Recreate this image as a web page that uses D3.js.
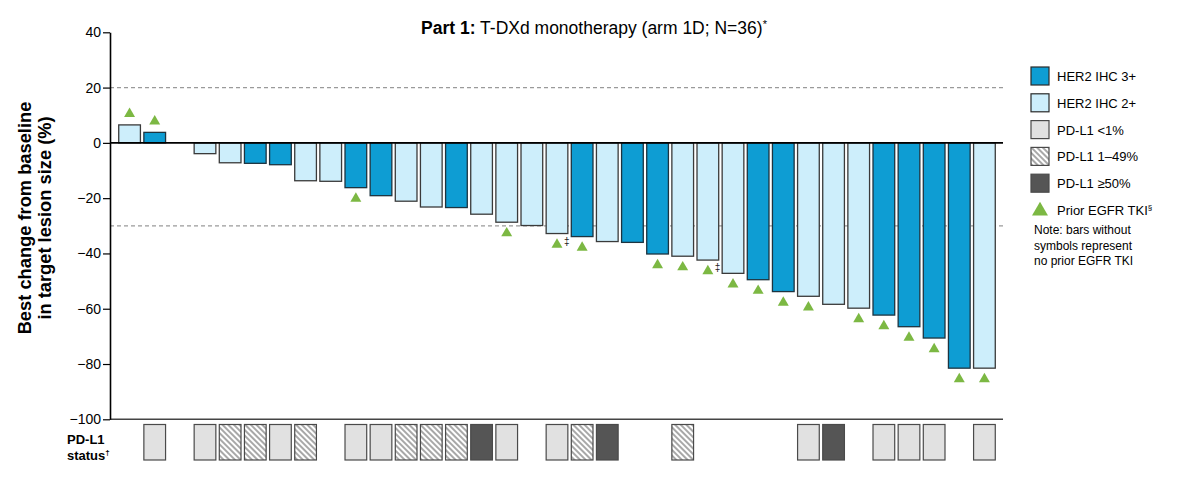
<!DOCTYPE html>
<html><head><meta charset="utf-8">
<script src="https://cdn.jsdelivr.net/npm/d3@7"></script>
<style>
html,body{margin:0;padding:0;background:#fff;}
svg{display:block;font-family:"Liberation Sans",Arial,Helvetica,sans-serif;}
</style></head>
<body><svg id="chart" width="1182" height="487"></svg>
<script>
// ---- data ----
const patients = d3.range(1, 36).map(i => "P" + i);
const bestChange = [6.5, 3.8, null, -3.9, -7.2, -7.4, -7.9, -13.7, -13.9, -16.2, -19.1, -21.1, -23.2, -23.4, -25.8, -28.7, -29.9, -32.8, -33.9, -35.7, -36.0, -40.2, -41.0, -42.4, -47.2, -49.5, -53.8, -55.5, -58.4, -59.8, -62.3, -66.5, -70.6, -81.5, -81.5];
const her2 = ["2+","3+",null,"2+","2+","3+","3+","2+","2+","3+","3+","2+","2+","3+","2+","2+","2+","2+","3+","2+","3+","3+","2+","2+","2+","3+","3+","2+","2+","2+","3+","3+","3+","3+","2+"];
const pdl1 = [null,"<1",null,"<1","1-49","1-49","<1","1-49",null,"<1","<1","1-49","1-49","1-49",">=50","<1",null,"<1","1-49",">=50",null,null,"1-49",null,null,null,null,"<1",">=50",null,"<1","<1","<1",null,"<1"];
const priorEGFR = [1,1,0,0,0,0,0,0,0,1,0,0,0,0,0,1,0,1,1,0,0,1,1,1,1,1,1,1,0,1,1,1,1,1,1];
const daggerMark = [0,0,0,0,0,0,0,0,0,0,0,0,0,0,0,0,0,1,0,0,0,0,0,1,0,0,0,0,0,0,0,0,0,0,0];
const yTicks = [40, 20, 0, -20, -40, -60, -80, -100];
const refLines = [20, -30];
const legendItems = [
  {key:"3+", label:"HER2 IHC 3+", type:"her2"},
  {key:"2+", label:"HER2 IHC 2+", type:"her2"},
  {key:"<1", label:"PD-L1 <1%", type:"pdl1"},
  {key:"1-49", label:"PD-L1 1–49%", type:"pdl1"},
  {key:">=50", label:"PD-L1 ≥50%", type:"pdl1"}
];
const noteLines = ["Note: bars without", "symbols represent", "no prior EGFR TKI"];

// ---- styles ----
const her2Fill = {"3+":"#0e9dd3", "2+":"#cdeefb"};
const pdFill = {"<1":"#e1e1e1", "1-49":"url(#hatch)", ">=50":"#555555"};
const green = "#7cb843";

const svg = d3.select("#chart");
const defs = svg.append("defs");
const pat = defs.append("pattern").attr("id","hatch").attr("patternUnits","userSpaceOnUse")
  .attr("width",4).attr("height",4).attr("patternTransform","rotate(-45)");
pat.append("rect").attr("width",4).attr("height",4).attr("fill","#ffffff");
pat.append("rect").attr("width",2).attr("height",4).attr("fill","#a8a8a8");

const x0 = 110, x1 = 1003;
const x = d3.scaleBand().domain(patients).range([117, 997]).paddingInner(0.137).paddingOuter(0.0685);
const y = d3.scaleLinear().domain([-100, 40]).range([419.3, 32.3]);

const data = patients.map((p, i) => ({p, v: bestChange[i], h: her2[i], pd: pdl1[i], egfr: priorEGFR[i], dag: daggerMark[i]}));

// reference lines
svg.append("g").selectAll("line").data(refLines).join("line")
  .attr("x1", x0).attr("x2", x1).attr("y1", d => y(d)).attr("y2", d => y(d))
  .attr("stroke", "#9a9a9a").attr("stroke-width", 1.2).attr("stroke-dasharray", "4,3");

// bars
svg.append("g").selectAll("rect").data(data.filter(d => d.v !== null)).join("rect")
  .attr("x", d => x(d.p)).attr("width", x.bandwidth())
  .attr("y", d => Math.min(y(d.v), y(0))).attr("height", d => Math.abs(y(d.v) - y(0)))
  .attr("fill", d => her2Fill[d.h]).attr("stroke", d => d.h === "3+" ? "#1d3440" : "#3a3a3a").attr("stroke-width", 1.3);

// triangles
const tri = d3.symbol().type(d3.symbolTriangle).size(52);
svg.append("g").selectAll("path").data(data.filter(d => d.egfr)).join("path")
  .attr("d", tri)
  .attr("transform", d => `translate(${x(d.p) + x.bandwidth()/2},${d.v >= 0 ? y(d.v) - 11 : y(d.v) + 11})`)
  .attr("fill", green);

// daggers
svg.append("g").selectAll("text").data(data.filter(d => d.dag)).join("text")
  .attr("x", d => x(d.p) + x.bandwidth()/2 + 7).attr("y", d => y(d.v) + 11)
  .attr("font-size", 10).attr("fill", "#222").text("‡");

// zero line & bottom line
svg.append("line").attr("x1", x0).attr("x2", x1).attr("y1", y(0)).attr("y2", y(0))
  .attr("stroke", "#000").attr("stroke-width", 1.6);
svg.append("line").attr("x1", x0).attr("x2", x1).attr("y1", y(-100)).attr("y2", y(-100))
  .attr("stroke", "#444").attr("stroke-width", 1.6);

// y axis
const yAxis = svg.append("g").attr("transform", `translate(${x0},0)`)
  .call(d3.axisLeft(y).tickValues(yTicks).tickSize(7).tickSizeOuter(0).tickPadding(2));
yAxis.select(".domain").attr("stroke", "#000").attr("stroke-width", 1.6);
yAxis.selectAll(".tick line").attr("stroke", "#000").attr("stroke-width", 1.2);
yAxis.selectAll(".tick text").attr("font-size", 14).attr("fill", "#000")
  .attr("font-family", "'Liberation Sans',Arial,sans-serif");

// y title
const yt = svg.append("text").attr("transform", "translate(31,218) rotate(-90)")
  .attr("text-anchor", "middle").attr("font-size", 18.3).attr("font-weight", "bold").attr("fill", "#000");
yt.append("tspan").attr("x", 0).attr("y", 0).text("Best change from baseline");
yt.append("tspan").attr("x", 0).attr("y", 20).text("in target lesion size (%)");

// title
const tt = svg.append("text").attr("x", 594).attr("y", 34).attr("text-anchor", "middle").attr("font-size", 17.5).attr("fill", "#000");
tt.append("tspan").attr("font-weight", "bold").text("Part 1:");
tt.append("tspan").text(" T-DXd monotherapy (arm 1D; N=36)");
tt.append("tspan").attr("font-size", 11).attr("dy", -6).text("*");

// PD-L1 status row
svg.append("g").selectAll("rect").data(data.filter(d => d.pd)).join("rect")
  .attr("x", d => x(d.p)).attr("width", x.bandwidth())
  .attr("y", 424.5).attr("height", 35.5)
  .attr("fill", d => pdFill[d.pd]).attr("stroke", "#4a4a4a").attr("stroke-width", 1.2);
const pl = svg.append("text").attr("font-size", 13).attr("font-weight", "bold").attr("fill", "#000");
pl.append("tspan").attr("x", 67).attr("y", 444).text("PD-L1");
pl.append("tspan").attr("x", 67).attr("y", 460).text("status");
pl.append("tspan").attr("font-size", 8).attr("dy", -5).text("†");

// legend
const lg = svg.append("g");
const rowY = i => 76 + i * 26.8;
lg.selectAll("rect").data(legendItems).join("rect")
  .attr("x", 1031).attr("y", (d, i) => rowY(i) - 9).attr("width", 18).attr("height", 18)
  .attr("fill", d => d.type === "her2" ? her2Fill[d.key] : pdFill[d.key])
  .attr("stroke", d => d.type === "her2" ? "#2a2a2a" : "#4a4a4a").attr("stroke-width", 1.2);
lg.selectAll("text.li").data(legendItems).join("text").attr("class", "li")
  .attr("x", 1057).attr("y", (d, i) => rowY(i) + 5).attr("font-size", 13).attr("fill", "#000").text(d => d.label);
lg.append("path").attr("d", d3.symbol().type(d3.symbolTriangle).size(110))
  .attr("transform", "translate(1040,211)").attr("fill", green);
const pe = lg.append("text").attr("x", 1057).attr("y", 215).attr("font-size", 13).attr("fill", "#000");
pe.append("tspan").text("Prior EGFR TKI");
pe.append("tspan").attr("font-size", 8).attr("dy", -5).text("§");
lg.selectAll("text.note").data(noteLines).join("text").attr("class", "note")
  .attr("x", 1034).attr("y", (d, i) => 234 + i * 15.5).attr("font-size", 12).attr("fill", "#000").text(d => d);
</script></body></html>
